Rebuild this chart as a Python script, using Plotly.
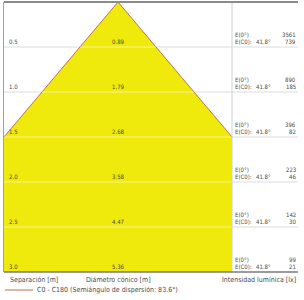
import plotly.graph_objects as go

# ---- data ----
distances = [0.5, 1.0, 1.5, 2.0, 2.5, 3.0]            # Separación [m]
diameters = [0.89, 1.79, 2.68, 3.58, 4.47, 5.36]      # Diámetro cónico [m]
e_center = [3561, 890, 396, 223, 142, 99]             # E(0°) [lx]
e_c0 = [739, 185, 82, 46, 30, 21]                     # E(C0) [lx]
half_angle_label = "41.8°"
series_name = "C0 - C180 (Semiángulo de dispersión: 83.6°)"

# ---- layout constants ----
x_half = diameters[2] / 2          # cone panel spans the 1.5 m diameter
cone_domain_end = 228 / 294
FONT = "Liberation Sans Narrow, DejaVu Sans Condensed, Liberation Sans, sans-serif"
TXT = "#4a4a4a"
YELLOW = "#EFEA0B"
EDGE = "#C2714E"

fig = go.Figure()

d_max = distances[-1]
r_max = diameters[-1] / 2
fig.add_trace(go.Scatter(
    x=[0, -r_max, r_max, 0], y=[0, d_max, d_max, 0],
    mode="lines", fill="toself", fillcolor=YELLOW,
    line=dict(width=0), hoverinfo="skip", showlegend=False))
fig.add_trace(go.Scatter(
    x=[-r_max, 0, r_max], y=[d_max, 0, d_max],
    mode="lines", line=dict(color=EDGE, width=1),
    name=series_name, showlegend=False))

shapes = []
annotations = []
for d, dia, e0, ec in zip(distances, diameters, e_center, e_c0):
    if d < d_max:
        shapes.append(dict(type="line", xref="paper", yref="y", x0=0, x1=1, y0=d, y1=d,
                           line=dict(color="#dcdcdc", width=1), layer="below"))
        hw = min(dia / 2, x_half)
        shapes.append(dict(type="line", xref="x", yref="y", x0=-hw, x1=hw, y0=d, y1=d,
                           line=dict(color="rgba(255,255,255,0.55)", width=1), layer="above"))
    f = dict(family=FONT, size=6, color=TXT)
    annotations.append(dict(xref="paper", yref="y", x=3 / 294, y=d, text=f"{d:.1f}",
                            xanchor="left", yanchor="bottom", showarrow=False, font=f))
    annotations.append(dict(xref="x", yref="y", x=0, y=d, text=f"{dia:.2f}",
                            xanchor="center", yanchor="bottom", showarrow=False, font=f))
    annotations.append(dict(xref="paper", yref="y", x=229 / 294, y=d, text="E(0°)",
                            xanchor="left", yanchor="bottom", yshift=7, showarrow=False, font=f))
    annotations.append(dict(xref="paper", yref="y", x=229 / 294, y=d, text="E(C0):",
                            xanchor="left", yanchor="bottom", showarrow=False, font=f))
    annotations.append(dict(xref="paper", yref="y", x=259 / 294, y=d, text=half_angle_label,
                            xanchor="center", yanchor="bottom", showarrow=False, font=f))
    annotations.append(dict(xref="paper", yref="y", x=1, y=d, text=str(e0),
                            xanchor="right", yanchor="bottom", yshift=7, showarrow=False, font=f))
    annotations.append(dict(xref="paper", yref="y", x=1, y=d, text=str(ec),
                            xanchor="right", yanchor="bottom", showarrow=False, font=f))

# vertical separator of the table
shapes.append(dict(type="line", xref="paper", yref="paper", x0=cone_domain_end, x1=cone_domain_end,
                   y0=0, y1=1, line=dict(color="#d0d0d0", width=1), layer="above"))
# top / bottom borders
shapes.append(dict(type="line", xref="paper", yref="paper", x0=0, x1=1, y0=1, y1=1,
                   line=dict(color="#8a8a8a", width=2), layer="above"))
shapes.append(dict(type="line", xref="paper", yref="paper", x0=0, x1=1, y0=0, y1=0,
                   line=dict(color="#7a7a7a", width=1.5), layer="above"))

# manual legend entry
leg_y = -18 / 270
shapes.append(dict(type="line", xref="paper", yref="paper", x0=1 / 294, x1=29 / 294,
                   y0=leg_y, y1=leg_y, line=dict(color=EDGE, width=1)))
annotations.append(dict(xref="paper", yref="paper", x=31 / 294, y=leg_y, text=series_name,
                        xanchor="left", yanchor="middle", showarrow=False,
                        font=dict(family=FONT, size=7, color=TXT)))

fb = dict(family=FONT, size=7, color=TXT)
annotations += [
    dict(xref="paper", yref="paper", x=4 / 294, y=0, yshift=-2, text="Separación [m]",
         xanchor="left", yanchor="top", showarrow=False, font=fb),
    dict(xref="x", yref="paper", x=0, y=0, yshift=-2, text="Diámetro cónico [m]",
         xanchor="center", yanchor="top", showarrow=False, font=fb),
    dict(xref="paper", yref="paper", x=1, y=0, yshift=-2, text="Intensidad lumínica [lx]",
         xanchor="right", yanchor="top", showarrow=False, font=fb),
]

fig.update_layout(
    width=304, height=300,
    margin=dict(l=4, r=6, t=2, b=28, autoexpand=False),
    paper_bgcolor="white", plot_bgcolor="white",
    shapes=shapes, annotations=annotations,
    showlegend=False,
    xaxis=dict(domain=[0, cone_domain_end], range=[-x_half, x_half], showgrid=False,
               zeroline=False, showticklabels=False, ticks="", showline=False),
    yaxis=dict(range=[d_max, 0], showgrid=False, zeroline=False, showticklabels=False,
               ticks="", showline=True, linecolor="#a0a0a0", linewidth=1, mirror=False),
)

fig.write_html("out.html", config={"displayModeBar": False},
               post_script="document.body.style.margin='0';document.body.style.overflow='hidden';")
